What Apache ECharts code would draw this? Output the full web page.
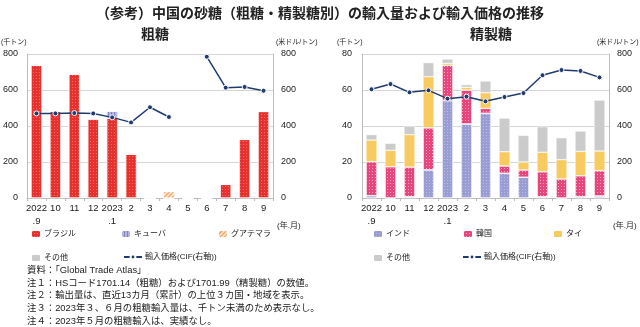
<!DOCTYPE html>
<html>
<head>
<meta charset="utf-8">
<script src="https://cdn.jsdelivr.net/npm/echarts@6/dist/echarts.min.js"></script>
<style>
  html, body { margin: 0; padding: 0; background: #fff; }
  #chart { width: 640px; height: 327px; }
</style>
</head>
<body>
<div id="chart"></div>
<script>
// Months (year.month)
const months = ['2022\n.9', '10', '11', '12', '2023\n.1', '2', '3', '4', '5', '6', '7', '8', '9'];

// Raw sugar imports (thousand tonnes)
const rawBrazil    = [739, 483, 689, 440, 443, 244, 0, 0, 0, 0, 76, 326, 481];
const rawCuba      = [0, 0, 0, 0, 40, 0, 0, 0, 0, 0, 0, 0, 0];
const rawGuatemala = [0, 0, 0, 0, 0, 0, 0, 36, 0, 0, 0, 0, 0];
const rawOther     = [0, 0, 0, 0, 0, 0, 0, 0, 0, 0, 0, 0, 0];
// Raw sugar import price, CIF (USD/tonne)
const rawPrice     = [470, 470, 472, 470, 448, 420, 504, 450, null, 785, 613, 617, 596];

// Refined sugar imports (thousand tonnes)
const refIndia = [1.3, 0, 0.7, 15.6, 54.1, 41.1, 47.0, 13.7, 11.5, 0.7, 0, 0.7, 1.1];
const refKorea = [18.9, 17.4, 16.5, 23.4, 19.6, 18.9, 2.8, 4.1, 4.1, 13.9, 10.6, 11.7, 14.1];
const refThai  = [12.0, 9.1, 18.0, 28.4, 1.1, 1.5, 8.7, 7.9, 4.4, 10.8, 10.7, 13.5, 10.9];
const refOther = [3.0, 3.9, 4.8, 7.8, 2.4, 1.5, 6.5, 18.7, 14.8, 14.2, 12.2, 11.3, 28.3];
// Refined sugar import price, CIF (USD/tonne)
const refPrice = [604, 633, 587, 598, 552, 563, 537, 561, 583, 682, 711, 706, 670];

// Axis ticks
const leftTicksRaw = { min: 0, max: 800, interval: 200 };
const leftTicksRef = { min: 0, max: 80, interval: 20 };
const priceTicks   = { min: 0, max: 800, interval: 200 };

const FONT = "'Liberation Sans', 'Noto Sans CJK JP', sans-serif";
const TXT = '#222';
const LINE_COLOR = '#1f3b70';
const PRICE_NAME = '輸入価格(CIF(右軸))';

// Fill styles: solid base colour plus a fine decal texture
const dotDecal = (c) => ({ symbol: 'rect', symbolSize: 1, color: c, dashArrayX: [1, 2], dashArrayY: [1, 2] });
const brazilStyle = { color: '#e8302c', decal: dotDecal('rgba(255,190,180,0.45)') };
const koreaStyle  = { color: '#e8457c', decal: dotDecal('rgba(255,255,255,0.55)') };
const indiaStyle  = { color: '#9a9cd4', decal: dotDecal('rgba(255,255,255,0.35)') };
const cubaStyle   = { color: '#b4b4e2', decal: { symbol: 'rect', symbolSize: 1, color: 'rgba(120,120,190,0.8)', dashArrayX: [1, 2], dashArrayY: [10, 0] } };
const guatStyle   = { color: '#fde0c6', decal: { symbol: 'rect', symbolSize: 1, color: '#f39a55', dashArrayX: [1, 0], dashArrayY: [1, 2], rotation: -Math.PI / 4 } };
const otherStyle  = { color: '#cbcbcb' };
const thaiStyle   = { color: '#f7cb60' };

const gridL = { left: 25, top: 54, width: 248, height: 144 };
const gridR = { left: 362, top: 54, width: 247, height: 144 };

function xAxis(gridIndex) {
  return {
    type: 'category', gridIndex, data: months,
    axisLine: { lineStyle: { color: '#bdbdbd', width: 1 } },
    axisTick: { show: true, length: 3, lineStyle: { color: '#bdbdbd' } },
    axisLabel: { color: TXT, fontSize: 9.5, fontFamily: FONT, lineHeight: 13, margin: 4, interval: 0 }
  };
}
function yAxis(gridIndex, ticks, showGrid, margin) {
  return {
    type: 'value', gridIndex, min: ticks.min, max: ticks.max, interval: ticks.interval,
    axisLine: { show: true, lineStyle: { color: '#bdbdbd' } },
    axisTick: { show: false },
    splitLine: { show: showGrid, lineStyle: { color: '#d6d6d6', width: 1 } },
    axisLabel: { color: TXT, fontSize: 9, fontFamily: FONT, margin }
  };
}
function bar(name, data, style, xi, yi, stack) {
  return {
    name, type: 'bar', data, stack, xAxisIndex: xi, yAxisIndex: yi,
    barWidth: 11, itemStyle: Object.assign({ borderColor: '#fff', borderWidth: 0.5 }, style),
    emphasis: { disabled: true }
  };
}
function priceLine(data, xi, yi) {
  return {
    name: PRICE_NAME, type: 'line', data, xAxisIndex: xi, yAxisIndex: yi,
    connectNulls: false, symbol: 'circle', symbolSize: 5, z: 5,
    lineStyle: { color: LINE_COLOR, width: 1.5 },
    itemStyle: { color: LINE_COLOR, borderColor: '#fff', borderWidth: 1 },
    emphasis: { disabled: true }
  };
}
function legendAt(name, left, top, isLine) {
  return {
    data: [name], left, top, itemGap: 0,
    itemWidth: isLine ? 18 : 10, itemHeight: isLine ? 6 : 8,
    selectedMode: false, padding: 0,
    textStyle: { fontSize: 8, color: TXT, fontFamily: FONT, padding: [0, 0, 0, -2] }
  };
}

function txt(text, left, top, size, bold) {
  return {
    type: 'text', left, top,
    style: { text, fontSize: size, fontWeight: bold ? 'bold' : 'normal', fill: TXT, fontFamily: FONT }
  };
}

const notes = [
  '資料：「Global Trade Atlas」',
  '注１：HSコード1701.14（粗糖）および1701.99（精製糖）の数値。',
  '注２：輸出量は、直近13カ月（累計）の上位３カ国・地域を表示。',
  '注３：2023年３、６月の粗糖輸入量は、千トン未満のため表示なし。',
  '注４：2023年５月の粗糖輸入は、実績なし。'
];

const chart = echarts.init(document.getElementById('chart'), null, { renderer: 'canvas' });
chart.setOption({
  animation: false,
  backgroundColor: '#fff',
  textStyle: { fontFamily: FONT },
  title: [
    { text: '（参考）中国の砂糖（粗糖・精製糖別）の輸入量および輸入価格の推移', left: 'center', top: 2,
      textStyle: { fontSize: 14, fontWeight: 'bold', color: TXT, fontFamily: FONT } },
    { text: '粗糖', left: 150, top: 23, textAlign: 'center',
      textStyle: { fontSize: 14, fontWeight: 'bold', color: TXT, fontFamily: FONT } },
    { text: '精製糖', left: 486, top: 23, textAlign: 'center',
      textStyle: { fontSize: 14, fontWeight: 'bold', color: TXT, fontFamily: FONT } }
  ],
  grid: [gridL, gridR],
  xAxis: [xAxis(0), xAxis(1)],
  yAxis: [
    yAxis(0, leftTicksRaw, true, 9),
    yAxis(0, priceTicks, false, 8),
    yAxis(1, leftTicksRef, true, 10),
    yAxis(1, priceTicks, false, 8)
  ],
  legend: [
    legendAt('ブラジル', 30, 229, false),
    legendAt('キューバ', 120, 229, false),
    legendAt('グアテマラ', 217, 229, false),
    legendAt('その他', 30, 253, false),
    legendAt(PRICE_NAME, 123, 253, true),
    legendAt('インド', 372, 229, false),
    legendAt('韓国', 462, 229, false),
    legendAt('タイ', 552, 229, false),
    legendAt('その他', 372, 253, false),
    legendAt(PRICE_NAME, 462, 253, true)
  ],
  series: [
    bar('ブラジル', rawBrazil, brazilStyle, 0, 0, 'raw'),
    bar('キューバ', rawCuba, cubaStyle, 0, 0, 'raw'),
    bar('グアテマラ', rawGuatemala, guatStyle, 0, 0, 'raw'),
    bar('その他', rawOther, otherStyle, 0, 0, 'raw'),
    priceLine(rawPrice, 0, 1),
    bar('インド', refIndia, indiaStyle, 1, 2, 'ref'),
    bar('韓国', refKorea, koreaStyle, 1, 2, 'ref'),
    bar('タイ', refThai, thaiStyle, 1, 2, 'ref'),
    bar('その他', refOther, otherStyle, 1, 2, 'ref'),
    priceLine(refPrice, 1, 3)
  ],
  graphic: [
    txt('(千トン)', 1, 39, 7),
    txt('(米ドル/トン)', 276, 39, 7),
    txt('(千トン)', 337, 39, 7),
    txt('(米ドル/トン)', 597, 39, 7),
    txt('(年.月)', 277, 222, 8),
    txt('(年.月)', 613, 222, 8)
  ].concat(notes.map((t, i) => txt(t, 27, 266 + i * 12.6, 9.4, false)))
});
</script>
</body>
</html>
